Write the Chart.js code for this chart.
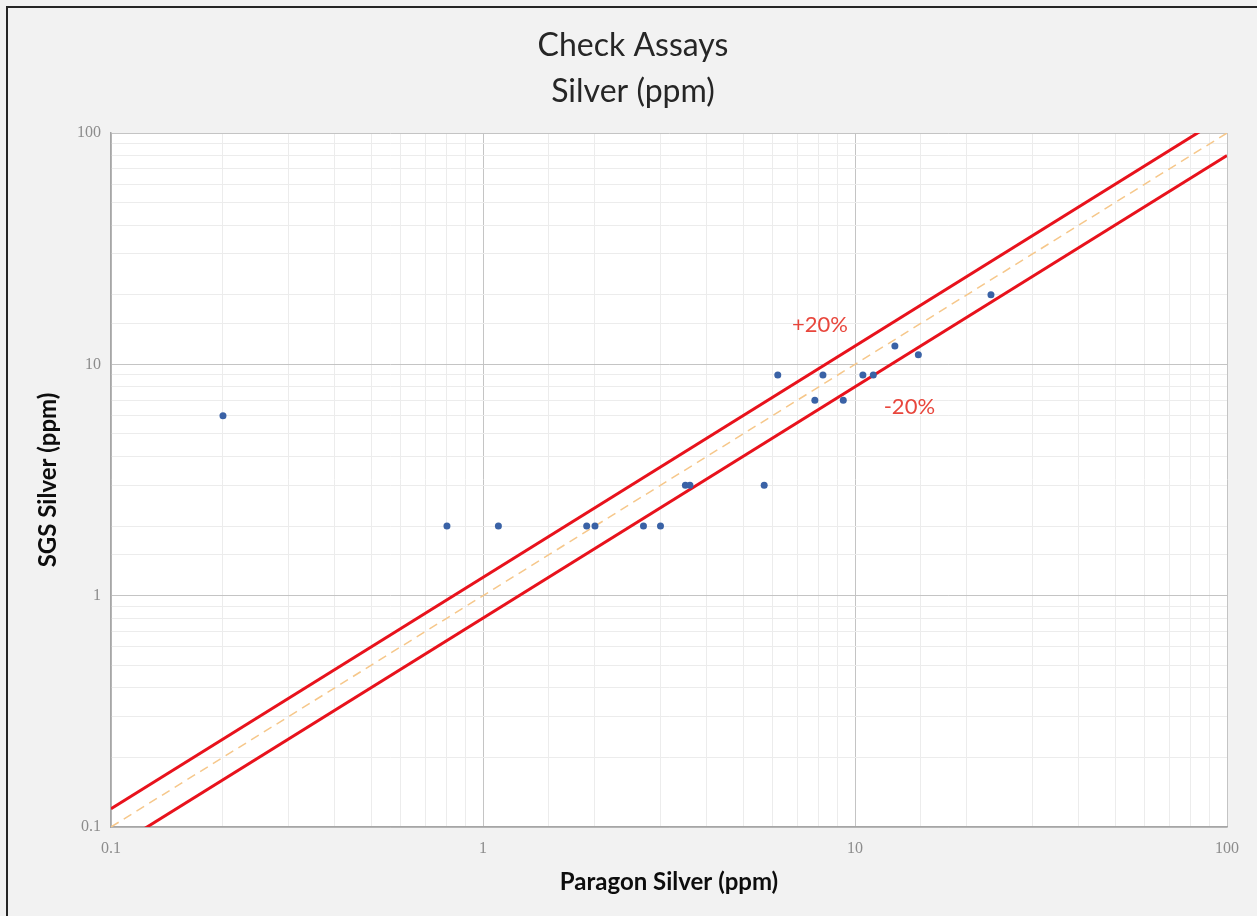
<!DOCTYPE html>
<html>
<head>
<meta charset="utf-8">
<title>Check Assays - Silver (ppm)</title>
<script src="https://cdn.jsdelivr.net/npm/chart.js@4.4.0/dist/chart.umd.min.js"></script>
<style>
    html, body { margin: 0; padding: 0; background: #f2f2f2; }
    #wrap { position: relative; width: 1257px; height: 916px; overflow: hidden; }
    #frame {
        position: absolute; left: 6px; top: 6px; right: 0; bottom: 0;
        border-top: 2px solid #262626; border-left: 2px solid #262626;
        pointer-events: none;
    }
    canvas { position: absolute; left: 0; top: 0; }
</style>
</head>
<body>
<div id="wrap">
    <canvas id="chart" width="1257" height="916"></canvas>
    <div id="frame"></div>
</div>
<script>
// Paragon (x) vs SGS (y) silver check assays, ppm
const paragonSilver = [0.2, 0.8, 1.1, 1.9, 2.0, 2.7, 3.0, 3.5, 3.6, 5.7, 6.2, 7.8, 8.2, 9.3, 10.5, 11.2, 12.8, 14.8, 23.2];
const sgsSilver     = [6,   2,   2,   2,   2,   2,   2,   3,   3,   3,   9,   7,   9,   7,   9,    9,    12,   11,   20];

// reference lines: 1:1 and +/-20%
const lineX      = [0.1, 100];
const oneToOneY  = [0.1, 100];
const plus20Y    = [0.12, 120];
const minus20Y   = [0.08, 80];

const majorTicks = [0.1, 1, 10, 100];
const tickLabels = ['0.1', '1', '10', '100'];

// label anchors (data units)
const bandLabels = [
    { text: '+20%', x: 8.05, y: 14.8 },
    { text: '-20%', x: 14.0, y: 6.55 }
];

const toPoints = (xs, ys) => xs.map((x, i) => ({ x: x, y: ys[i] }));

function isMajor(v) {
    return majorTicks.some(m => Math.abs(v - m) < m * 1e-6);
}
function tickLabel(v) {
    const i = majorTicks.findIndex(m => Math.abs(v - m) < m * 1e-6);
    return i >= 0 ? tickLabels[i] : '';
}

const decorPlugin = {
    id: 'decor',
    beforeDraw(chart) {
        const { ctx, chartArea } = chart;
        ctx.save();
        ctx.fillStyle = '#ffffff';
        ctx.fillRect(chartArea.left, chartArea.top, chartArea.right - chartArea.left, chartArea.bottom - chartArea.top);
        ctx.restore();
    },
    afterDraw(chart) {
        const { ctx, chartArea, scales } = chart;
        const midX = (chartArea.left + chartArea.right) / 2;
        ctx.save();
        // title
        ctx.fillStyle = '#262626';
        ctx.textAlign = 'center';
        ctx.textBaseline = 'middle';
        ctx.font = '32px Lato';
        ctx.fillText('Check Assays', 633, 46);
        ctx.fillText('Silver (ppm)', 633, 92);

        // axis titles
        ctx.font = 'bold 24px Lato';
        ctx.fillStyle = '#0d0d0d';
        ctx.fillText('Paragon Silver (ppm)', midX, 882);
        ctx.translate(48, (chartArea.top + chartArea.bottom) / 2);
        ctx.rotate(-Math.PI / 2);
        ctx.fillText('SGS Silver (ppm)', 0, 0);
        ctx.setTransform(1, 0, 0, 1, 0, 0);

        // band labels
        ctx.font = '22px Lato';
        ctx.fillStyle = '#e8463c';
        bandLabels.forEach(l => {
            ctx.fillText(l.text, scales.x.getPixelForValue(l.x), scales.y.getPixelForValue(l.y));
        });
        ctx.restore();
    }
};

const gridColor = ctx => (ctx.tick && isMajor(ctx.tick.value)) ? '#c4c4c4' : '#ececec';

const ctx = document.getElementById('chart').getContext('2d');
new Chart(ctx, {
    type: 'scatter',
    data: {
        datasets: [
            {
                label: 'Check assays',
                data: toPoints(paragonSilver, sgsSilver),
                backgroundColor: '#3a62a6',
                borderColor: '#3a62a6',
                pointRadius: 3.5,
                borderWidth: 0
            },
            {
                label: '+20%',
                data: toPoints(lineX, plus20Y),
                showLine: true,
                borderColor: '#e8121c',
                borderWidth: 3,
                pointRadius: 0
            },
            {
                label: '-20%',
                data: toPoints(lineX, minus20Y),
                showLine: true,
                borderColor: '#e8121c',
                borderWidth: 3,
                pointRadius: 0
            },
            {
                label: '1:1',
                data: toPoints(lineX, oneToOneY),
                showLine: true,
                borderColor: '#f6c78a',
                borderWidth: 1.5,
                borderDash: [9, 6],
                pointRadius: 0
            }
        ]
    },
    options: {
        responsive: false,
        animation: false,
        layout: {
            padding: { top: 133, left: 61, right: 30, bottom: 59 }
        },
        plugins: {
            legend: { display: false },
            title: { display: false },
            tooltip: { enabled: false }
        },
        scales: {
            x: {
                type: 'logarithmic',
                min: 0.1,
                max: 100,
                afterFit: s => { s.height = 30; },
                border: { display: true, color: '#a6a6a6', width: 1.5 },
                grid: { color: gridColor, drawTicks: false, lineWidth: 1 },
                ticks: {
                    autoSkip: false,
                    maxRotation: 0,
                    padding: 12,
                    color: '#8c8c8c',
                    font: { family: 'Liberation Serif', size: 16 },
                    callback: v => tickLabel(v)
                }
            },
            y: {
                type: 'logarithmic',
                min: 0.1,
                max: 100,
                afterFit: s => { s.width = 50; },
                border: { display: true, color: '#a6a6a6', width: 1.5 },
                grid: { color: gridColor, drawTicks: false, lineWidth: 1 },
                ticks: {
                    autoSkip: false,
                    padding: 10,
                    color: '#8c8c8c',
                    font: { family: 'Liberation Serif', size: 16 },
                    callback: v => tickLabel(v)
                }
            }
        }
    },
    plugins: [decorPlugin]
});
</script>
</body>
</html>
